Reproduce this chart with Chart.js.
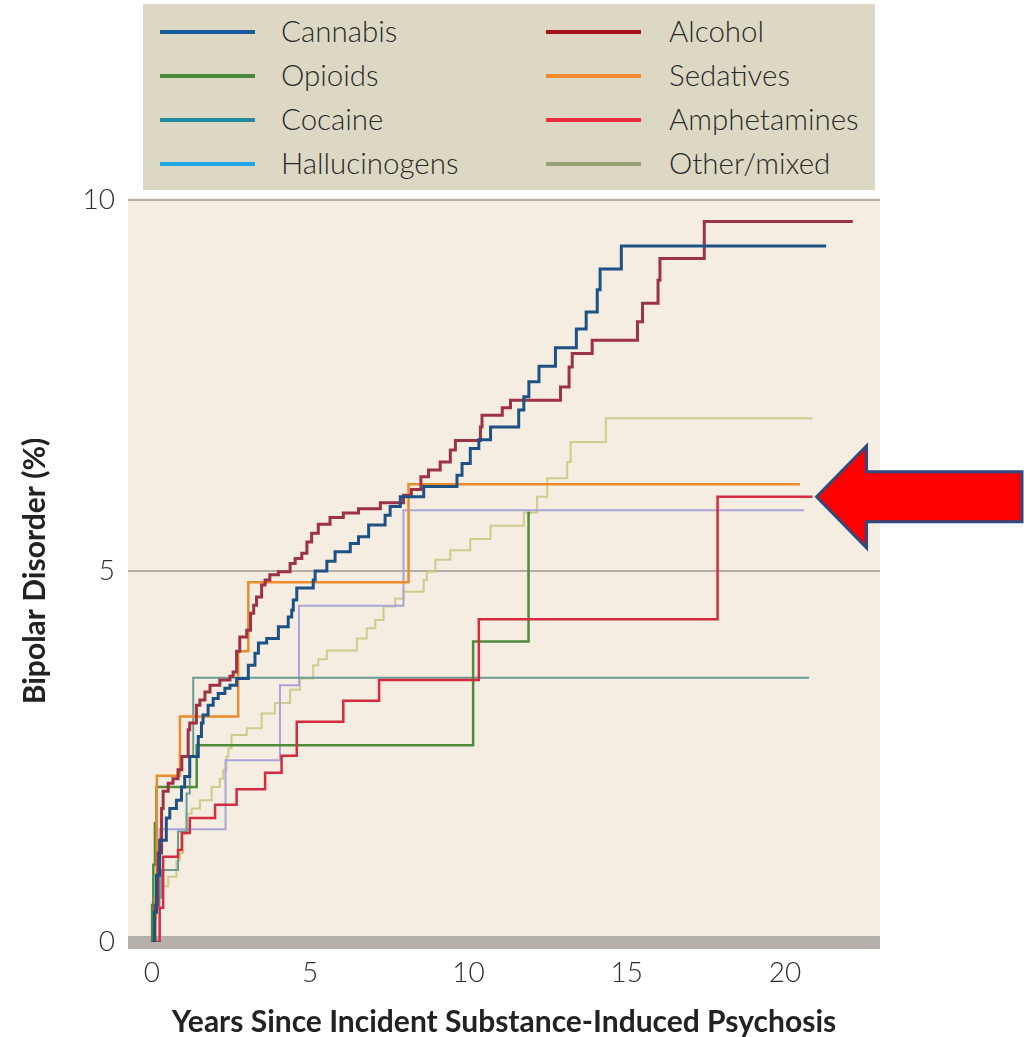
<!DOCTYPE html>
<html>
<head>
<meta charset="utf-8">
<script src="https://cdn.jsdelivr.net/npm/chart.js@4/dist/chart.umd.min.js"></script>
<style>
html,body{margin:0;padding:0;background:#ffffff;}
#wrap{position:relative;width:1033px;height:1037px;overflow:hidden;}
#chart{position:absolute;left:0;top:0;}
#legend{position:absolute;left:143px;top:4px;width:732px;height:186px;background:#ddd8c4;
  font-family:Lato,"Open Sans",sans-serif;font-weight:300;font-size:29.5px;color:#2b2b2b;}
.sw{position:absolute;width:95px;height:4px;}
.lb{position:absolute;line-height:44px;height:44px;white-space:nowrap;}
</style>
</head>
<body>
<div id="wrap">
  <canvas id="chart" width="1033" height="1037"></canvas>
  <div id="legend"></div>
</div>
<script>
// ---------- data ----------
const xTickValues = [0, 5, 10, 15, 20];
const yTickValues = [0, 5, 10];
const xTitle = 'Years Since Incident Substance-Induced Psychosis';
const yTitle = 'Bipolar Disorder (%)';

// legend order (row-wise, two columns)
const legendNames = ['Cannabis', 'Alcohol', 'Opioids', 'Sedatives', 'Cocaine', 'Amphetamines', 'Hallucinogens', 'Other/mixed'];

// step curves: time (years) at which the curve jumps, and cumulative % after the jump
const cannabisT = [0, 0.08, 0.15, 0.25, 0.46, 0.57, 0.78, 0.94, 1.04, 1.2, 1.47, 1.57, 1.62, 1.78, 1.94, 2.1, 2.31, 2.47, 2.68, 3.05, 3.26, 3.37, 3.63, 4.0, 4.31, 4.42, 4.47, 4.58, 5.1, 5.16, 5.53, 5.79, 6.27, 6.53, 6.85, 7.37, 7.53, 7.85, 8.59, 9.64, 9.8, 10.06, 10.33, 10.7, 11.59, 11.75, 11.91, 12.23, 12.75, 13.41, 13.72, 14.07, 14.16, 14.83, 21.3];
const cannabisV = [0, 0.4, 0.9, 1.37, 1.67, 1.8, 1.91, 2.09, 2.23, 2.5, 2.77, 2.95, 3.06, 3.19, 3.28, 3.35, 3.42, 3.46, 3.55, 3.73, 3.89, 4.03, 4.09, 4.25, 4.38, 4.47, 4.61, 4.77, 4.88, 5.0, 5.13, 5.26, 5.37, 5.46, 5.62, 5.75, 5.87, 6.0, 6.14, 6.29, 6.45, 6.65, 6.77, 6.94, 7.17, 7.35, 7.55, 7.76, 8.01, 8.26, 8.49, 8.79, 9.07, 9.38, 9.38];

const alcoholT = [0, 0.1, 0.2, 0.31, 0.36, 0.52, 0.67, 0.83, 0.95, 1.15, 1.2, 1.41, 1.52, 1.68, 1.84, 2.15, 2.47, 2.57, 2.68, 2.78, 3.0, 3.12, 3.22, 3.31, 3.47, 3.58, 3.73, 4.0, 4.37, 4.53, 4.74, 4.9, 5.05, 5.26, 5.63, 6.05, 6.53, 7.22, 7.95, 8.2, 8.5, 8.74, 9.11, 9.43, 9.59, 10.38, 10.43, 11.07, 11.33, 12.91, 13.18, 13.28, 13.91, 15.34, 15.5, 15.99, 16.05, 17.45, 22.14];
const alcoholV = [0, 0.5, 1.2, 1.8, 2.03, 2.14, 2.2, 2.32, 2.5, 2.86, 2.95, 3.19, 3.26, 3.37, 3.46, 3.53, 3.58, 3.64, 3.92, 4.11, 4.2, 4.43, 4.54, 4.65, 4.81, 4.88, 4.95, 4.99, 5.1, 5.17, 5.24, 5.39, 5.51, 5.63, 5.72, 5.78, 5.84, 5.92, 6.02, 6.1, 6.27, 6.36, 6.47, 6.63, 6.76, 6.94, 7.1, 7.2, 7.3, 7.48, 7.75, 7.93, 8.11, 8.36, 8.61, 8.92, 9.21, 9.71, 9.71];

const opioidsT = [0, 0.01, 0.05, 0.1, 0.15, 1.42, 10.15, 11.9, 11.95];
const opioidsV = [0, 0.5, 1.04, 1.6, 2.09, 2.65, 4.05, 5.78, 5.78];

const sedativesT = [0, 0.1, 0.16, 0.89, 2.73, 3.05, 8.11, 20.47];
const sedativesV = [0, 0.6, 2.24, 3.04, 3.92, 4.85, 6.17, 6.17];

const cocaineT = [0, 0.08, 0.3, 0.83, 1.1, 1.2, 1.31, 20.76];
const cocaineV = [0, 0.6, 0.97, 1.49, 2.0, 2.5, 3.56, 3.56];

const hallucinogensT = [0, 0.1, 0.25, 2.33, 4.05, 4.65, 7.95, 20.6];
const hallucinogensV = [0, 0.45, 1.52, 2.45, 3.46, 4.53, 5.82, 5.82];

const amphetaminesT = [0, 0.25, 0.36, 0.83, 0.95, 1.2, 2.0, 2.68, 3.58, 4.1, 4.58, 6.05, 7.18, 10.33, 17.87, 20.87];
const amphetaminesV = [0, 0.46, 1.15, 1.24, 1.47, 1.67, 1.85, 2.06, 2.28, 2.51, 2.97, 3.25, 3.53, 4.35, 6.0, 6.0];

const otherT = [0, 0.05, 0.15, 0.31, 0.52, 0.78, 0.89, 0.99, 1.1, 1.26, 1.52, 1.89, 2.15, 2.26, 2.36, 2.42, 2.52, 3.0, 3.47, 3.89, 4.37, 4.68, 5.1, 5.26, 5.53, 6.48, 6.79, 7.06, 7.32, 7.69, 7.95, 8.59, 8.69, 8.96, 9.43, 10.06, 10.7, 11.75, 12.17, 12.49, 13.12, 13.23, 14.34, 20.87];
const otherV = [0, 0.3, 0.66, 0.75, 0.88, 1.1, 1.2, 1.46, 1.73, 1.8, 1.91, 2.09, 2.2, 2.32, 2.5, 2.61, 2.79, 2.88, 3.08, 3.22, 3.4, 3.55, 3.73, 3.81, 3.93, 4.09, 4.23, 4.34, 4.52, 4.63, 4.72, 4.88, 4.99, 5.15, 5.28, 5.43, 5.61, 5.79, 6.0, 6.25, 6.47, 6.74, 7.06, 7.06];

// ---------- styles ----------
const seriesStyle = {
  'Cannabis':      {t: cannabisT, v: cannabisV, line: '#1f5284', swatch: '#1b5a9e', w: 3},
  'Alcohol':       {t: alcoholT, v: alcoholV, line: '#9c3244', swatch: '#a8121c', w: 3},
  'Opioids':       {t: opioidsT, v: opioidsV, line: '#4f8b3b', swatch: '#4a8a3c', w: 2.5},
  'Sedatives':     {t: sedativesT, v: sedativesV, line: '#ec8b2c', swatch: '#ef8a2e', w: 2.5},
  'Cocaine':       {t: cocaineT, v: cocaineV, line: '#6b9c94', swatch: '#1f8aa0', w: 2},
  'Amphetamines':  {t: amphetaminesT, v: amphetaminesV, line: '#d42b41', swatch: '#ee2b3b', w: 2.5},
  'Hallucinogens': {t: hallucinogensT, v: hallucinogensV, line: '#a9a5d8', swatch: '#22a6e6', w: 2},
  'Other/mixed':   {t: otherT, v: otherV, line: '#cfcb8c', swatch: '#9aa274', w: 2}
};
const drawOrder = ['Cannabis', 'Alcohol', 'Sedatives', 'Amphetamines', 'Opioids', 'Cocaine', 'Hallucinogens', 'Other/mixed'];

// ---------- HTML legend ----------
const legendEl = document.getElementById('legend');
legendNames.forEach((name, i) => {
  const col = i % 2, row = Math.floor(i / 2);
  const sw = document.createElement('div');
  sw.className = 'sw';
  sw.style.left = (col ? 403 : 17) + 'px';
  sw.style.top = (26 + row * 44) + 'px';
  sw.style.background = seriesStyle[name].swatch;
  legendEl.appendChild(sw);
  const lb = document.createElement('div');
  lb.className = 'lb';
  lb.style.left = (col ? 526 : 138) + 'px';
  lb.style.top = (5 + row * 44) + 'px';
  lb.textContent = name;
  legendEl.appendChild(lb);
});

// ---------- plugins ----------
const plotBg = {
  id: 'plotBg',
  beforeDraw(chart) {
    const {ctx, chartArea: a} = chart;
    ctx.save();
    ctx.fillStyle = '#f5ede2';
    ctx.fillRect(a.left, a.top - 2, a.right - a.left, a.bottom - a.top + 2);
    ctx.restore();
  }
};
const arrowPlugin = {
  id: 'arrow',
  afterDraw(chart) {
    const {ctx} = chart;
    const xs = chart.scales.x, ys = chart.scales.y;
    const s = seriesStyle['Amphetamines'];
    const tipX = xs.getPixelForValue(s.t[s.t.length - 1]) + 4;
    const tipY = ys.getPixelForValue(s.v[s.v.length - 1]);
    const headW = 50, headH = 51, shaftH = 25, endX = 1022;
    ctx.save();
    ctx.beginPath();
    ctx.moveTo(tipX, tipY);
    ctx.lineTo(tipX + headW, tipY - headH);
    ctx.lineTo(tipX + headW, tipY - shaftH);
    ctx.lineTo(endX, tipY - shaftH);
    ctx.lineTo(endX, tipY + shaftH);
    ctx.lineTo(tipX + headW, tipY + shaftH);
    ctx.lineTo(tipX + headW, tipY + headH);
    ctx.closePath();
    ctx.fillStyle = '#ff0000';
    ctx.fill();
    ctx.lineWidth = 3;
    ctx.lineJoin = 'miter';
    ctx.strokeStyle = '#2e4a7e';
    ctx.stroke();
    ctx.restore();
  }
};

// ---------- chart ----------
const datasets = drawOrder.map((name, i) => {
  const s = seriesStyle[name];
  return {
    label: name,
    data: s.t.map((t, k) => ({x: t, y: s.v[k]})),
    borderColor: s.line,
    backgroundColor: s.line,
    borderWidth: s.w,
    stepped: 'before',
    pointRadius: 0,
    pointHoverRadius: 0,
    fill: false,
    order: i
  };
});

new Chart(document.getElementById('chart'), {
  type: 'line',
  data: {datasets},
  options: {
    responsive: false,
    animation: false,
    events: [],
    layout: {padding: {top: 200, left: 0, right: 153, bottom: 0}},
    plugins: {legend: {display: false}, tooltip: {enabled: false}},
    scales: {
      x: {
        type: 'linear',
        min: -0.75,
        max: 23,
        afterBuildTicks: sc => { sc.ticks = xTickValues.map(v => ({value: v})); },
        afterFit: sc => { sc.height = 95; },
        grid: {display: false, drawTicks: false},
        border: {display: false},
        ticks: {padding: 14, color: '#2e2e2e', font: {family: 'Lato', weight: 300, size: 28}, maxRotation: 0},
        title: {display: true, text: xTitle, color: '#222', padding: {top: 0, bottom: 0},
                font: {family: 'Lato', weight: 'bold', size: 30, lineHeight: 1}}
      },
      y: {
        type: 'linear',
        min: 0,
        max: 10,
        afterBuildTicks: sc => { sc.ticks = yTickValues.map(v => ({value: v})); },
        afterFit: sc => { sc.width = 128; },
        grid: {
          drawTicks: false,
          color: c => c.tick && c.tick.value === 0 ? '#b5b0aa' : '#b3aca6',
          lineWidth: c => c.tick && c.tick.value === 0 ? 13 : 2
        },
        border: {display: false},
        ticks: {padding: 13, color: '#2e2e2e', font: {family: 'Lato', weight: 300, size: 28}},
        title: {display: true, text: yTitle, color: '#222', padding: {top: 20, bottom: 0},
                font: {family: 'Lato', weight: 'bold', size: 30, lineHeight: 1}}
      }
    }
  },
  plugins: [plotBg, arrowPlugin]
});
</script>
</body>
</html>
